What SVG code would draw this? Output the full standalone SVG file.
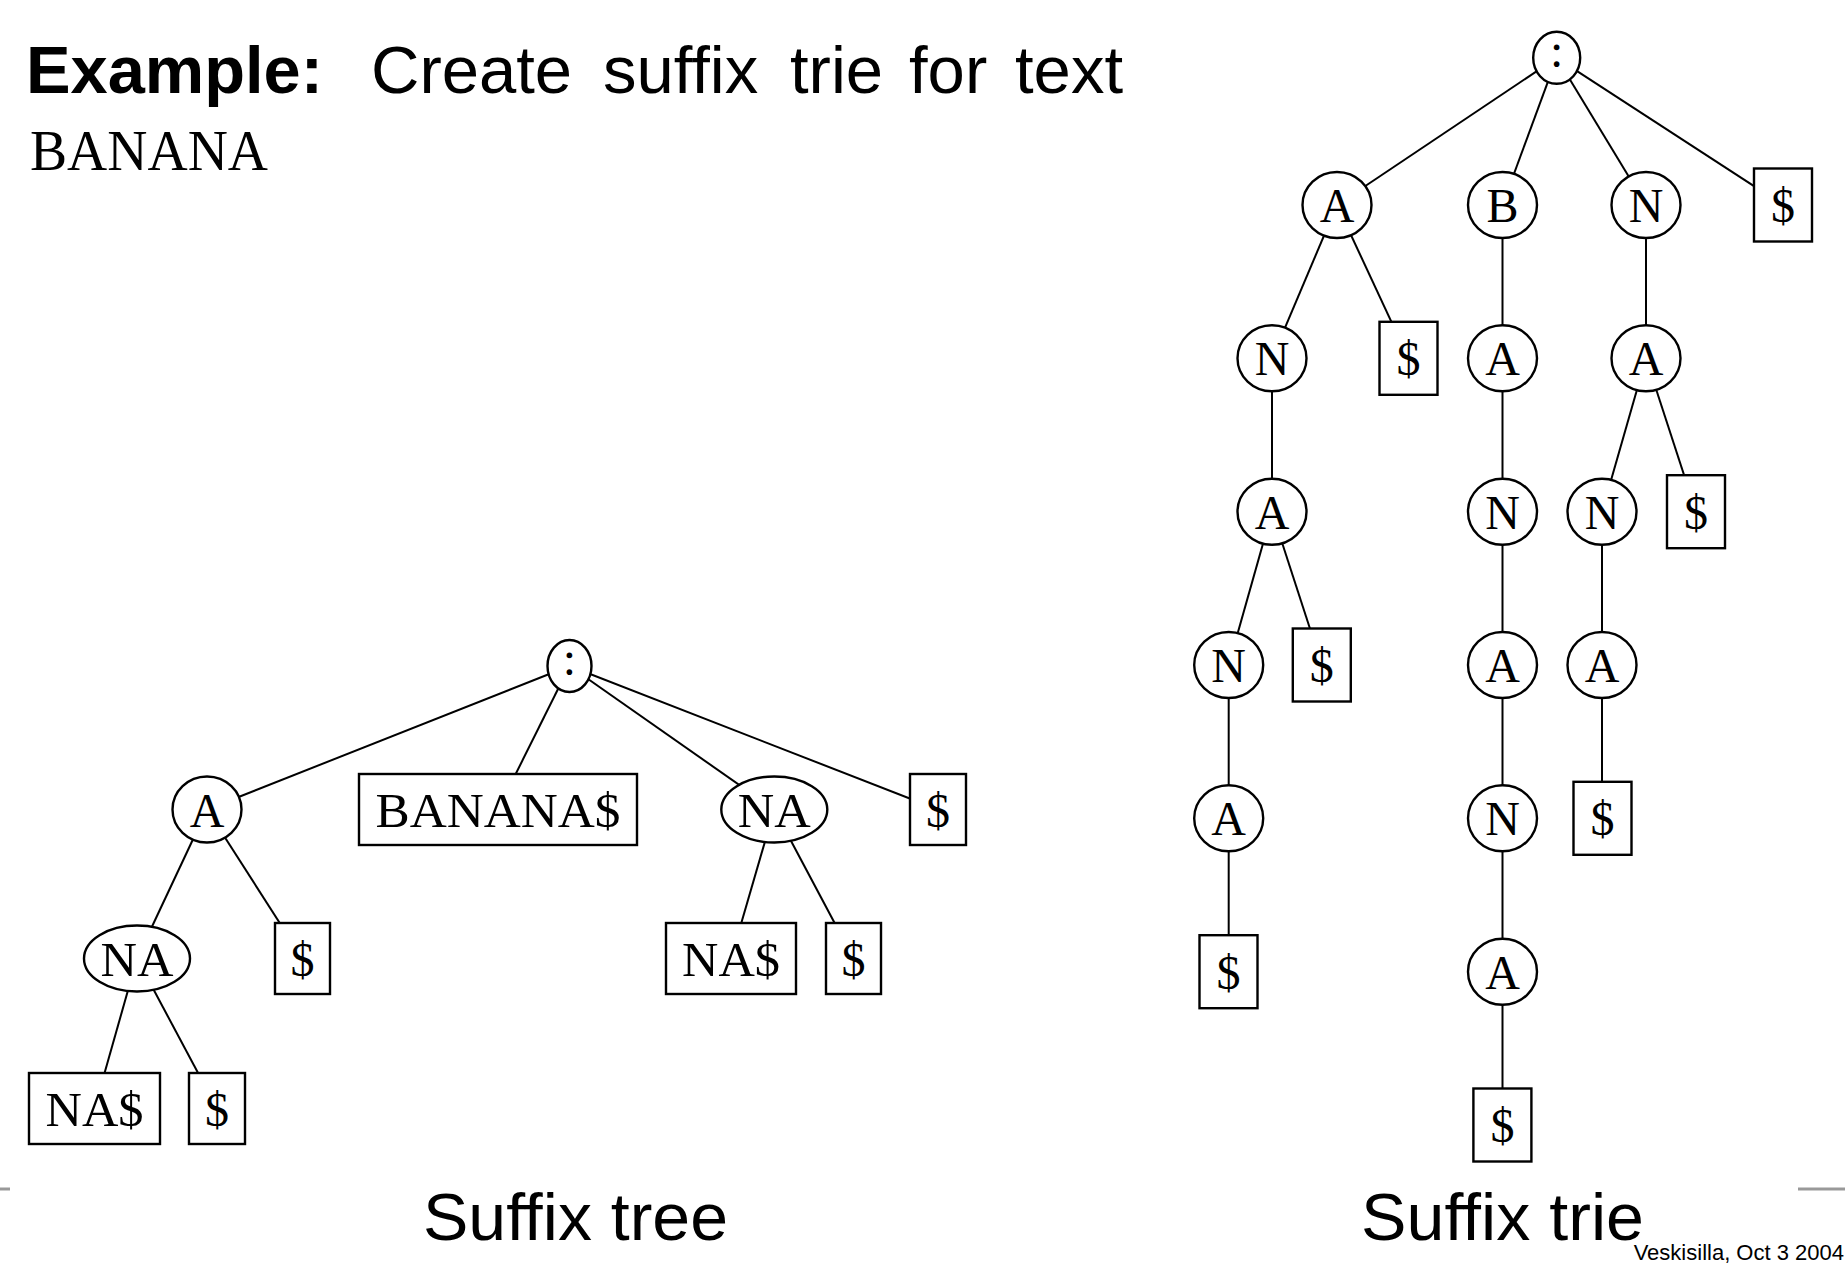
<svg xmlns="http://www.w3.org/2000/svg" width="1845" height="1279" viewBox="0 0 1845 1279">
<style>
.edge{stroke:#000;stroke-width:2;fill:none}
.node ellipse,.node rect{fill:#fff;stroke:#000;stroke-width:2.4}
.lbl{font-family:"Liberation Serif","Times New Roman",serif;font-size:48px;text-anchor:middle;fill:#000}
.sans{font-family:"Liberation Sans",Arial,sans-serif;fill:#000}
.rule{stroke:#999;stroke-width:3}
</style>
<rect x="0" y="0" width="1845" height="1279" fill="#fff"/>
<!-- Title -->
<text class="sans" x="26" y="93" font-size="67" font-weight="bold" textLength="297" lengthAdjust="spacingAndGlyphs">Example:</text>
<text class="sans" y="93" font-size="67"><tspan x="371">Create</tspan><tspan x="603">suffix</tspan><tspan x="790">trie</tspan><tspan x="909">for</tspan><tspan x="1015">text</tspan></text>
<text x="30" y="170" font-family="'Liberation Serif','Times New Roman',serif" font-size="56" fill="#000" textLength="238" lengthAdjust="spacingAndGlyphs">BANANA</text>

<!-- Connectors -->
<g id="connectors" class="edge">
  <!-- suffix tree -->
  <line x1="569.5" y1="666" x2="207" y2="809.5"/>
  <line x1="569.5" y1="666" x2="498" y2="809.5"/>
  <line x1="569.5" y1="666" x2="774.3" y2="809.5"/>
  <line x1="569.5" y1="666" x2="938" y2="809.5"/>
  <line x1="207" y1="809.5" x2="137" y2="958.5"/>
  <line x1="207" y1="809.5" x2="302.5" y2="958.5"/>
  <line x1="774.3" y1="809.5" x2="731" y2="958.5"/>
  <line x1="774.3" y1="809.5" x2="853.5" y2="958.5"/>
  <line x1="137" y1="958.5" x2="94.5" y2="1108.5"/>
  <line x1="137" y1="958.5" x2="217" y2="1108.5"/>
  <!-- suffix trie -->
  <line x1="1556.7" y1="57.8" x2="1337" y2="205"/>
  <line x1="1556.7" y1="57.8" x2="1502.5" y2="205"/>
  <line x1="1556.7" y1="57.8" x2="1646" y2="205"/>
  <line x1="1556.7" y1="57.8" x2="1783" y2="205"/>
  <line x1="1337" y1="205" x2="1272" y2="358.3"/>
  <line x1="1337" y1="205" x2="1408.4" y2="358.3"/>
  <line x1="1272" y1="358.3" x2="1272" y2="511.7"/>
  <line x1="1272" y1="511.7" x2="1228.7" y2="665"/>
  <line x1="1272" y1="511.7" x2="1321.8" y2="665"/>
  <line x1="1228.7" y1="665" x2="1228.7" y2="971.7"/>
  <line x1="1502.5" y1="205" x2="1502.5" y2="1125"/>
  <line x1="1646" y1="205" x2="1646" y2="358.3"/>
  <line x1="1646" y1="358.3" x2="1602" y2="511.7"/>
  <line x1="1646" y1="358.3" x2="1696" y2="511.7"/>
  <line x1="1602" y1="511.7" x2="1602" y2="818.3"/>
</g>

<!-- Suffix tree nodes -->
<g id="t_root" class="node"><ellipse cx="569.5" cy="666" rx="22" ry="26"/><text class="lbl" x="569.5" y="675">:</text></g>
<g id="t_A" class="node"><ellipse cx="207" cy="809.5" rx="34.5" ry="33"/><text class="lbl" x="207" y="826.5">A</text></g>
<g id="t_BANANA" class="node"><rect x="359" y="774" width="278" height="71"/><text class="lbl" x="498" y="826.5" textLength="245" lengthAdjust="spacingAndGlyphs">BANANA$</text></g>
<g id="t_NA1" class="node"><ellipse cx="774.3" cy="809.5" rx="53" ry="33"/><text class="lbl" x="774.3" y="826.5" textLength="73" lengthAdjust="spacingAndGlyphs">NA</text></g>
<g id="t_D1" class="node"><rect x="910" y="774" width="56" height="71"/><text class="lbl" x="938" y="826.5">$</text></g>
<g id="t_NA2" class="node"><ellipse cx="137" cy="958.5" rx="53" ry="33"/><text class="lbl" x="137" y="975.5" textLength="73" lengthAdjust="spacingAndGlyphs">NA</text></g>
<g id="t_D2" class="node"><rect x="275" y="923" width="55" height="71"/><text class="lbl" x="302.5" y="975.5">$</text></g>
<g id="t_NAD1" class="node"><rect x="666" y="923" width="130" height="71"/><text class="lbl" x="731" y="975.5" textLength="98" lengthAdjust="spacingAndGlyphs">NA$</text></g>
<g id="t_D3" class="node"><rect x="826" y="923" width="55" height="71"/><text class="lbl" x="853.5" y="975.5">$</text></g>
<g id="t_NAD2" class="node"><rect x="29" y="1073" width="131" height="71"/><text class="lbl" x="94.5" y="1125.5" textLength="98" lengthAdjust="spacingAndGlyphs">NA$</text></g>
<g id="t_D4" class="node"><rect x="189" y="1073" width="56" height="71"/><text class="lbl" x="217" y="1125.5">$</text></g>

<!-- Suffix trie nodes -->
<g id="r_root" class="node"><ellipse cx="1556.7" cy="57.8" rx="23.5" ry="26"/><text class="lbl" x="1556.7" y="67">:</text></g>
<g id="r1_A" class="node"><ellipse cx="1337" cy="205" rx="34.5" ry="33"/><text class="lbl" x="1337" y="222">A</text></g>
<g id="r1_B" class="node"><ellipse cx="1502.5" cy="205" rx="34.5" ry="33"/><text class="lbl" x="1502.5" y="222">B</text></g>
<g id="r1_N" class="node"><ellipse cx="1646" cy="205" rx="34.5" ry="33"/><text class="lbl" x="1646" y="222">N</text></g>
<g id="r1_D" class="node"><rect x="1754" y="168.5" width="58" height="73"/><text class="lbl" x="1783" y="222">$</text></g>

<g id="r2_N" class="node"><ellipse cx="1272" cy="358.3" rx="34.5" ry="33"/><text class="lbl" x="1272" y="375.3">N</text></g>
<g id="r2_D" class="node"><rect x="1379.5" y="321.8" width="58" height="73"/><text class="lbl" x="1408.5" y="375.3">$</text></g>
<g id="r2_A1" class="node"><ellipse cx="1502.5" cy="358.3" rx="34.5" ry="33"/><text class="lbl" x="1502.5" y="375.3">A</text></g>
<g id="r2_A2" class="node"><ellipse cx="1646" cy="358.3" rx="34.5" ry="33"/><text class="lbl" x="1646" y="375.3">A</text></g>

<g id="r3_A" class="node"><ellipse cx="1272" cy="511.7" rx="34.5" ry="33"/><text class="lbl" x="1272" y="528.7">A</text></g>
<g id="r3_N1" class="node"><ellipse cx="1502.5" cy="511.7" rx="34.5" ry="33"/><text class="lbl" x="1502.5" y="528.7">N</text></g>
<g id="r3_N2" class="node"><ellipse cx="1602" cy="511.7" rx="34.5" ry="33"/><text class="lbl" x="1602" y="528.7">N</text></g>
<g id="r3_D" class="node"><rect x="1667" y="475.2" width="58" height="73"/><text class="lbl" x="1696" y="528.7">$</text></g>

<g id="r4_N" class="node"><ellipse cx="1228.7" cy="665" rx="34.5" ry="33"/><text class="lbl" x="1228.7" y="682">N</text></g>
<g id="r4_D" class="node"><rect x="1292.8" y="628.5" width="58" height="73"/><text class="lbl" x="1321.8" y="682">$</text></g>
<g id="r4_A1" class="node"><ellipse cx="1502.5" cy="665" rx="34.5" ry="33"/><text class="lbl" x="1502.5" y="682">A</text></g>
<g id="r4_A2" class="node"><ellipse cx="1602" cy="665" rx="34.5" ry="33"/><text class="lbl" x="1602" y="682">A</text></g>

<g id="r5_A" class="node"><ellipse cx="1228.7" cy="818.3" rx="34.5" ry="33"/><text class="lbl" x="1228.7" y="835.3">A</text></g>
<g id="r5_N" class="node"><ellipse cx="1502.5" cy="818.3" rx="34.5" ry="33"/><text class="lbl" x="1502.5" y="835.3">N</text></g>
<g id="r5_D" class="node"><rect x="1573.5" y="781.8" width="58" height="73"/><text class="lbl" x="1602.5" y="835.3">$</text></g>

<g id="r6_D" class="node"><rect x="1199.5" y="935.2" width="58" height="73"/><text class="lbl" x="1228.5" y="988.7">$</text></g>
<g id="r6_A" class="node"><ellipse cx="1502.5" cy="971.7" rx="34.5" ry="33"/><text class="lbl" x="1502.5" y="988.7">A</text></g>

<g id="r7_D" class="node"><rect x="1473.4" y="1088.5" width="58" height="73"/><text class="lbl" x="1502.4" y="1142">$</text></g>

<!-- Captions -->
<line class="rule" x1="0" y1="1189" x2="10" y2="1189"/>
<line class="rule" x1="1798" y1="1189" x2="1845" y2="1189"/>
<text class="sans" x="423" y="1240" font-size="67" textLength="305" lengthAdjust="spacingAndGlyphs">Suffix tree</text>
<text class="sans" x="1361" y="1240" font-size="67" textLength="283" lengthAdjust="spacingAndGlyphs">Suffix trie</text>
<text class="sans" x="1844" y="1260" font-size="22" text-anchor="end">Veskisilla, Oct 3 2004</text>
</svg>
